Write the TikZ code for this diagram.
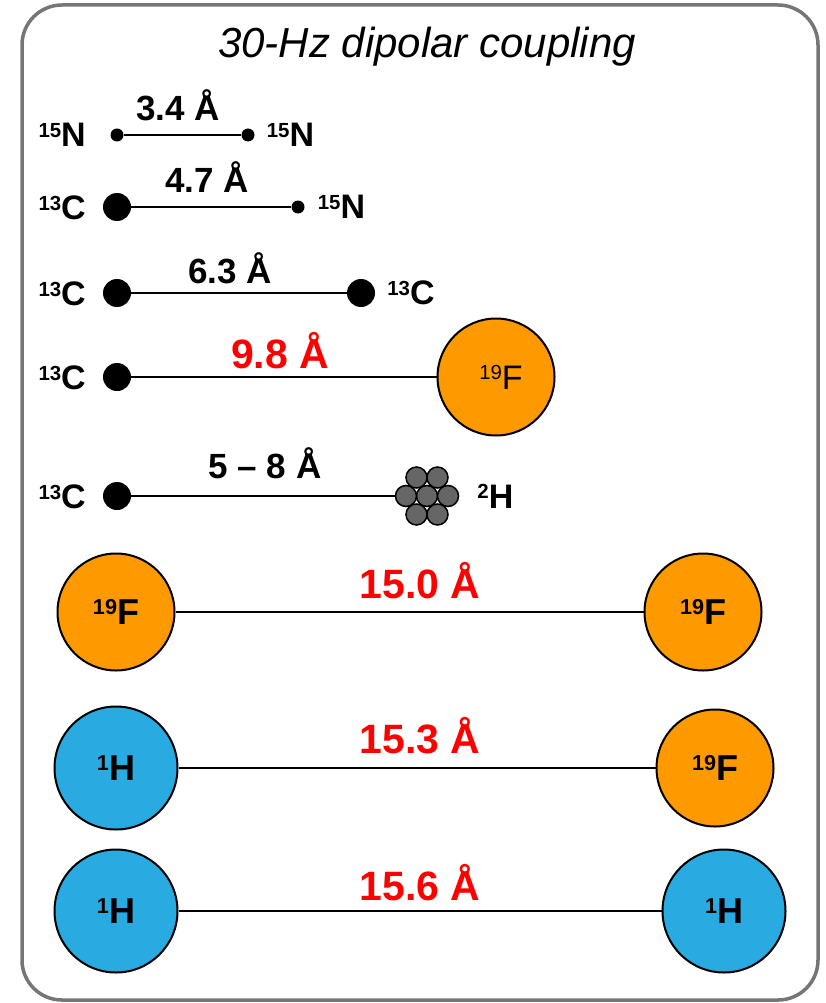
\documentclass[tikz,border=0pt]{standalone}
\usepackage{fontspec}
\setmainfont{Liberation Sans}
\usepackage{graphicx}
\usetikzlibrary{positioning}
\definecolor{fluorine}{RGB}{255,153,0}
\definecolor{proton}{RGB}{41,171,226}
\definecolor{deut}{RGB}{102,102,102}
\definecolor{boxgray}{RGB}{118,118,118}
\newcommand{\iso}[2]{\raisebox{0.29em}{\scalebox{0.6}{#1}}#2}
\tikzset{
  smalldot/.style={circle, fill=black, inner sep=0pt, minimum size=13pt},
  bigdot/.style={circle, fill=black, inner sep=0pt, minimum size=28pt},
  fnuc/.style={circle, draw=black, line width=2pt, fill=fluorine, inner sep=0pt, minimum size=117pt, font=\fontsize{36}{36}\selectfont\bfseries},
  hnuc/.style={circle, draw=black, line width=2pt, fill=proton, inner sep=0pt, minimum size=123pt, font=\fontsize{36}{36}\selectfont\bfseries},
  dnuc/.style={circle, draw=black, line width=1.5pt, fill=deut, inner sep=0pt, minimum size=21pt},
  bond/.style={line width=2.8pt},
  nuclab/.style={inner sep=0pt, font=\fontsize{34}{34}\selectfont\bfseries},
  dist/.style={anchor=base, inner sep=0pt, font=\fontsize{35}{35}\selectfont\bfseries},
  reddist/.style={anchor=base, inner sep=0pt, text=red, font=\fontsize{41}{41}\selectfont\bfseries}
}

\begin{document}
\begin{tikzpicture}[x=1pt, y=-1pt]
  \useasboundingbox (0,0) rectangle (825,1003);
  %%%%% FRAME %%%%%
  \draw[boxgray, line width=3.5pt, rounded corners=40pt] (22,5) rectangle (818,1000);
  \node[font=\fontsize{42}{42}\selectfont\itshape, anchor=base] (title) at (427,58) {30-Hz dipolar coupling};

  %%%%% 15N -- 15N %%%%%
  \node[smalldot] (n1a) at (117,135) {};
  \node[smalldot] (n1b) at (248,135) {};
  \draw[bond] (n1a) -- (n1b);
  \node[nuclab, anchor=east] (l1a) at (86,135) {\iso{15}{N}};
  \node[nuclab, right=12pt of n1b] (l1b) {\iso{15}{N}};
  \node[dist] (d1) at (178,121) {3.4 Å};

  %%%%% 13C -- 15N %%%%%
  \node[bigdot] (c2a) at (117,207) {};
  \node[smalldot] (n2b) at (298,207) {};
  \draw[bond] (c2a) -- (n2b);
  \node[nuclab, anchor=east] (l2a) at (86,208) {\iso{13}{C}};
  \node[nuclab, right=13pt of n2b] (l2b) {\iso{15}{N}};
  \node[dist] (d2) at (207,193) {4.7 Å};

  %%%%% 13C -- 13C %%%%%
  \node[bigdot] (c3a) at (117,293) {};
  \node[bigdot] (c3b) at (361,293) {};
  \draw[bond] (c3a) -- (c3b);
  \node[nuclab, anchor=east] (l3a) at (86,294) {\iso{13}{C}};
  \node[nuclab, right=12pt of c3b] (l3b) {\iso{13}{C}};
  \node[dist] (d3) at (230,283) {6.3 Å};

  %%%%% 13C -- 19F %%%%%
  \node[bigdot] (c4a) at (117,377) {};
  \node[fnuc, font=\fontsize{34}{34}\selectfont\mdseries] (f4b) at (496,377) {\hspace*{10pt}\iso{19}{F}};
  \draw[bond] (c4a) -- (f4b);
  \node[nuclab, anchor=east] (l4a) at (86,378) {\iso{13}{C}};
  \node[reddist] (d4) at (280,368) {9.8 Å};

  %%%%% 13C -- 2H %%%%%
  \node[bigdot] (c5a) at (117,496) {};
  \foreach \n/\dx/\dy in {0/0/0, 1/-21/0, 2/21/0, 3/-10.5/-18.5, 4/10.5/-18.5, 5/-10.5/18.5, 6/10.5/18.5}
    \node[dnuc] (h5\n) at (427+\dx,496+\dy) {};
  \draw[bond] (c5a) -- (h51);
  \node[nuclab, anchor=east] (l5a) at (86,497) {\iso{13}{C}};
  \node[nuclab, right=18pt of h52] (l5b) {\iso{2}{H}};
  \node[dist] (d5) at (265,478) {5 – 8 Å};

  %%%%% 19F -- 19F %%%%%
  \node[fnuc] (f6a) at (116,612) {\iso{19}{F}};
  \node[fnuc] (f6b) at (703,612) {\iso{19}{F}};
  \draw[bond] (f6a) -- (f6b);
  \node[reddist] (d6) at (420,598) {15.0 Å};

  %%%%% 1H -- 19F %%%%%
  \node[hnuc] (h7a) at (116,768) {\iso{1}{H}};
  \node[fnuc] (f7b) at (715,768) {\iso{19}{F}};
  \draw[bond] (h7a) -- (f7b);
  \node[reddist] (d7) at (420,753) {15.3 Å};

  %%%%% 1H -- 1H %%%%%
  \node[hnuc] (h8a) at (116,911) {\iso{1}{H}};
  \node[hnuc] (h8b) at (724,911) {\iso{1}{H}};
  \draw[bond] (h8a) -- (h8b);
  \node[reddist] (d8) at (420,900) {15.6 Å};
\end{tikzpicture}
\end{document}
